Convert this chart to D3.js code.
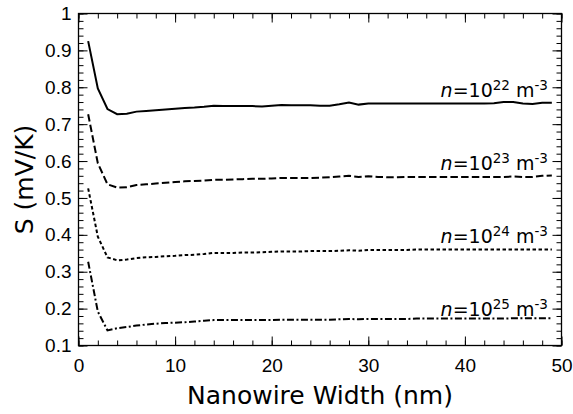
<!DOCTYPE html>
<html>
<head>
<meta charset="utf-8">
<script src="https://cdn.jsdelivr.net/npm/d3@7"></script>
<style>
  body { margin: 0; background: #fff; }
  svg { font-family: "DejaVu Sans", sans-serif; }
  .axis path, .axis line { stroke: #000; }
  .axis text { fill: #000; font-size: 19px; }
</style>
</head>
<body>
<svg id="chart" width="573" height="414"></svg>
<script>
// Nanowire widths (nm)
const widths = d3.range(1, 50);

// Seebeck coefficient S (mV/K) for each carrier density
const s22 = [0.925, 0.797, 0.741, 0.727, 0.728, 0.734, 0.736, 0.738, 0.740, 0.742,
             0.744, 0.745, 0.747, 0.750, 0.749, 0.749, 0.749, 0.749, 0.748, 0.750,
             0.752, 0.751, 0.751, 0.751, 0.750, 0.750, 0.754, 0.759, 0.753, 0.756,
             0.756, 0.756, 0.756, 0.756, 0.756, 0.756, 0.756, 0.756, 0.756, 0.756,
             0.756, 0.756, 0.757, 0.760, 0.760, 0.756, 0.755, 0.758, 0.758];
const s23 = [0.727, 0.594, 0.537, 0.528, 0.529, 0.535, 0.537, 0.539, 0.541, 0.543,
             0.545, 0.546, 0.547, 0.549, 0.549, 0.550, 0.551, 0.552, 0.552, 0.553,
             0.554, 0.554, 0.554, 0.554, 0.555, 0.556, 0.558, 0.560, 0.557, 0.559,
             0.557, 0.556, 0.556, 0.557, 0.557, 0.557, 0.557, 0.557, 0.557, 0.557,
             0.557, 0.557, 0.557, 0.557, 0.558, 0.557, 0.557, 0.560, 0.561];
const s24 = [0.526, 0.395, 0.339, 0.331, 0.333, 0.337, 0.339, 0.340, 0.342, 0.343,
             0.345, 0.346, 0.348, 0.351, 0.351, 0.351, 0.352, 0.352, 0.353, 0.354,
             0.355, 0.355, 0.355, 0.356, 0.356, 0.356, 0.357, 0.358, 0.357, 0.359,
             0.359, 0.359, 0.359, 0.359, 0.360, 0.360, 0.360, 0.360, 0.360, 0.360,
             0.360, 0.360, 0.360, 0.360, 0.360, 0.360, 0.360, 0.360, 0.360];
const s25 = [0.327, 0.192, 0.141, 0.147, 0.150, 0.154, 0.157, 0.159, 0.161, 0.162,
             0.163, 0.165, 0.167, 0.169, 0.169, 0.169, 0.169, 0.169, 0.169, 0.169,
             0.170, 0.170, 0.170, 0.170, 0.170, 0.170, 0.171, 0.172, 0.171, 0.172,
             0.172, 0.172, 0.172, 0.172, 0.173, 0.173, 0.173, 0.173, 0.173, 0.173,
             0.173, 0.173, 0.173, 0.173, 0.174, 0.174, 0.174, 0.174, 0.174];

const exponents = ['22', '23', '24', '25'];
const labelY = [0.775, 0.576, 0.377, 0.181];

const xTicks = [0, 10, 20, 30, 40, 50];
const yTicks = [0.1, 0.2, 0.3, 0.4, 0.5, 0.6, 0.7, 0.8, 0.9, 1];

// plot box
const boxL = 78.5, boxR = 561.5, boxT = 13.5, boxB = 345.5;

const svg = d3.select('#chart');

let x = d3.scaleLinear().domain([0, 50]).range([boxL, boxR]);
let y = d3.scaleLinear().domain([0.1, 1]).range([boxB, boxT]);

const xMinor = d3.range(0, 51, 2);
const yMinor = d3.range(0, 46).map(i => +(0.1 + i * 0.02).toFixed(2));

function yFmt(d) { return d === 1 ? '1' : d.toFixed(1); }

// minor ticks, all four sides, pointing inward
svg.append('g').attr('class', 'axis').attr('transform', `translate(0,${boxB})`)
  .call(d3.axisBottom(x).tickValues(xMinor).tickSize(-5).tickFormat(''));
svg.append('g').attr('class', 'axis').attr('transform', `translate(0,${boxT})`)
  .call(d3.axisTop(x).tickValues(xMinor).tickSize(-5).tickFormat(''));
svg.append('g').attr('class', 'axis').attr('transform', `translate(${boxL},0)`)
  .call(d3.axisLeft(y).tickValues(yMinor).tickSize(-5).tickFormat(''));
svg.append('g').attr('class', 'axis').attr('transform', `translate(${boxR},0)`)
  .call(d3.axisRight(y).tickValues(yMinor).tickSize(-5).tickFormat(''));

// major ticks with labels
svg.append('g').attr('class', 'axis').attr('transform', `translate(0,${boxB})`)
  .call(d3.axisBottom(x).tickValues(xTicks).tickSize(-9).tickPadding(13));
svg.append('g').attr('class', 'axis').attr('transform', `translate(0,${boxT})`)
  .call(d3.axisTop(x).tickValues(xTicks).tickSize(-9).tickFormat(''));
svg.append('g').attr('class', 'axis').attr('transform', `translate(${boxL},0)`)
  .call(d3.axisLeft(y).tickValues(yTicks).tickSize(-9).tickPadding(7).tickFormat(yFmt));
svg.append('g').attr('class', 'axis').attr('transform', `translate(${boxR},0)`)
  .call(d3.axisRight(y).tickValues(yTicks).tickSize(-9).tickFormat(''));

svg.selectAll('.axis path.domain').remove();
svg.selectAll('.axis line').attr('stroke-width', 1);

// frame
svg.append('rect')
  .attr('x', boxL).attr('y', boxT)
  .attr('width', boxR - boxL).attr('height', boxB - boxT)
  .attr('fill', 'none').attr('stroke', '#000').attr('stroke-width', 1.3);

// curves
const series = [s22, s23, s24, s25];
const dashes = [null, '7.5,3.2', '3.5,2.5', '7,2.5,2,2.5'];

let line = d3.line().x((d, i) => x(widths[i])).y(d => y(d));

series.forEach((s, k) => {
  svg.append('path')
    .datum(s)
    .attr('d', line)
    .attr('fill', 'none')
    .attr('stroke', '#000')
    .attr('stroke-width', 2)
    .attr('stroke-dasharray', dashes[k]);

  let t = svg.append('text')
    .attr('x', x(48.6)).attr('y', y(labelY[k]))
    .attr('text-anchor', 'end')
    .attr('font-size', 19);
  t.append('tspan').attr('font-style', 'italic').text('n');
  t.append('tspan').text('=10');
  t.append('tspan').attr('font-size', 13.5).attr('dy', -7).text(exponents[k]);
  t.append('tspan').attr('dy', 7).text(' m');
  t.append('tspan').attr('font-size', 13.5).attr('dy', -7).text('-3');
});

// axis titles
svg.append('text')
  .attr('x', (boxL + boxR) / 2).attr('y', 404)
  .attr('text-anchor', 'middle').attr('font-size', 25)
  .text('Nanowire Width (nm)');

svg.append('text')
  .attr('transform', `translate(33,${(boxT + boxB) / 2}) rotate(-90)`)
  .attr('text-anchor', 'middle').attr('font-size', 25)
  .text('S (mV/K)');
</script>
</body>
</html>
